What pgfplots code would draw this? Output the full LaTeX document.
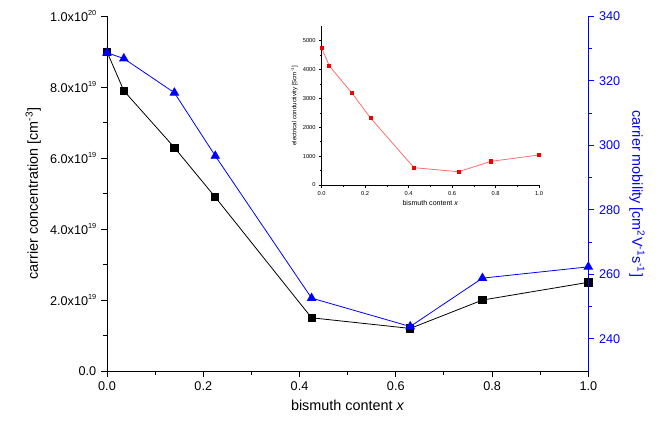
\documentclass[border=0pt]{standalone}
\usepackage{pgfplots}
\pgfplotsset{compat=1.18}
\usepackage{fontspec}
\setmainfont{Liberation Sans}
\definecolor{mblue}{RGB}{0,0,255}
\definecolor{lred}{RGB}{255,110,110}
\definecolor{mred}{RGB}{240,0,0}
\newcommand{\sups}[1]{\raisebox{0.85ex}{\fontsize{5.5}{6}\selectfont #1}}

\begin{document}
\begin{tikzpicture}
% page frame of the reference (1px = 0.75pt, origin at the main axis corner)
\useasboundingbox (-80.25pt,-39pt) rectangle (418.5pt,278.25pt);
\pgfplotsset{every axis/.append style={
  scale only axis,
  /pgf/number format/assume math mode=true,
  font=\fontsize{9.5}{11}\selectfont},
  onedigit/.style={/pgf/number format/fixed, /pgf/number format/fixed zerofill, /pgf/number format/precision=1}}

% carrier concentration (left axis, units of 1e19)
\begin{axis}[
  at={(0,0)}, anchor=south west,
  width=361pt, height=266pt,
  axis x line*=bottom, axis y line*=left, tick align=outside,
  xmin=0, xmax=1, ymin=0, ymax=10,
  xtick={0,0.2,0.4,0.6,0.8,1.0}, minor x tick num=1,
  xticklabel style={onedigit},
  ytick={0,2,4,6,8,10},
  yticklabels={0.0, 2.0x10\sups{19}, 4.0x10\sups{19}, 6.0x10\sups{19}, 8.0x10\sups{19}, 1.0x10\sups{20}},
  minor y tick num=1,
  major tick length=4.5pt, minor tick length=3pt,
  tick style={black, line width=0.7pt},
  axis line style={line width=0.7pt},
  xlabel={bismuth content \textit{x}},
  ylabel={carrier concentration [cm\textsuperscript{-3}]},
  label style={font=\fontsize{10.8}{12}\selectfont},
  clip=false,
]
\addplot[black, mark=square*, mark size=2.7pt, line width=0.6pt] coordinates {
  (0,9.0) (0.035,7.9) (0.14,6.3) (0.225,4.9) (0.425,1.5) (0.63,1.2) (0.78,2.0) (1.0,2.5)
};
\end{axis}

% carrier mobility (right axis)
\begin{axis}[
  at={(0,0)}, anchor=south west,
  width=361pt, height=266pt,
  axis x line=none, axis y line*=right, tick align=outside,
  xmin=0, xmax=1, ymin=230, ymax=340,
  ytick={240,260,280,300,320,340}, minor y tick num=1,
  major tick length=4.5pt, minor tick length=3pt,
  y axis line style={mblue, line width=0.8pt}, tick style={mblue, line width=0.7pt},
  yticklabel style={mblue},
  ylabel={carrier mobility [cm\textsuperscript{2}V\textsuperscript{-1}s\textsuperscript{-1}]},
  ylabel style={mblue, rotate=180, font=\fontsize{10.8}{12}\selectfont},
  clip=false,
]
\addplot[mblue, mark=triangle*, mark size=3.6pt, line width=0.6pt] coordinates {
  (0,328.7) (0.035,326.9) (0.14,316.3) (0.225,296.7) (0.425,252.6) (0.63,243.8) (0.78,258.8) (1.0,262.3)
};
\end{axis}

% inset: electrical conductivity
\begin{axis}[
  at={(161pt,139.5pt)}, anchor=south west,
  width=163pt, height=119pt,
  axis x line*=bottom, axis y line*=left, tick align=outside,
  xmin=0, xmax=1, ymin=0, ymax=5500,
  xtick={0,0.2,0.4,0.6,0.8,1.0}, minor x tick num=1,
  ytick={0,1000,2000,3000,4000,5000}, minor y tick num=1,
  scaled y ticks=false,
  yticklabel style={/pgf/number format/set thousands separator={}},
  major tick length=2pt, minor tick length=1.2pt,
  tick label style={font=\fontsize{4.3}{5}\selectfont},
  xticklabel style={onedigit, yshift=1pt}, yticklabel style={xshift=1pt},
  xlabel={bismuth content \textit{x}},
  ylabel={electrical conductivity [Scm\textsuperscript{-1}]},
  xlabel style={font=\fontsize{5.3}{6}\selectfont, yshift=3pt},
  ylabel style={font=\fontsize{4.6}{5}\selectfont, yshift=-3pt},
  axis line style={line width=0.4pt}, tick style={black, line width=0.4pt},
  clip=false,
]
\addplot[lred, line width=0.6pt, mark=square*, mark size=1.2pt, mark options={mred}] coordinates {
  (0,4750) (0.035,4130) (0.14,3180) (0.225,2320) (0.425,600) (0.63,460) (0.78,820) (1.0,1040)
};
\end{axis}
\end{tikzpicture}
\end{document}
